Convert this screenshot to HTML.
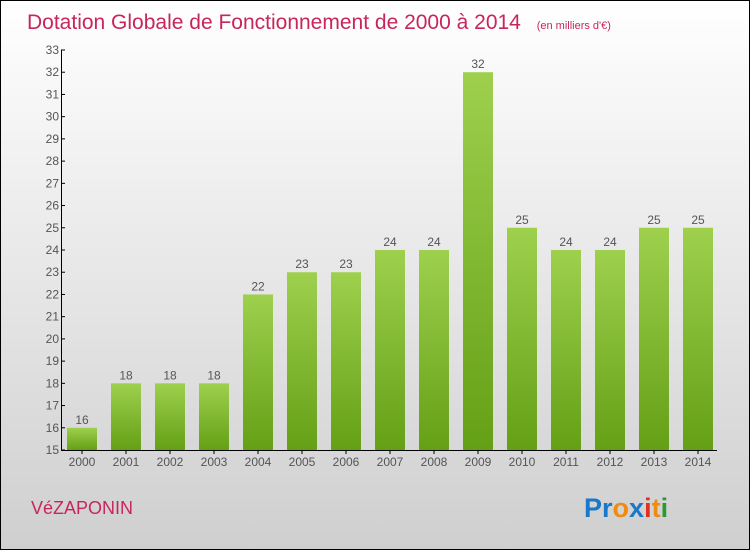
<!DOCTYPE html>
<html><head><meta charset="utf-8"><style>
body{margin:0}
#c{width:748px;height:548px;border:1px solid #000;background:linear-gradient(#fff,#cfcfcf);position:relative;font-family:"Liberation Sans",sans-serif;overflow:hidden}
</style></head><body>
<div id="c">
<svg id="s" width="748" height="548">
<defs><linearGradient id="g" x1="0" y1="0" x2="0" y2="1"><stop offset="0" stop-color="#9ed04e"/><stop offset="1" stop-color="#64a016"/></linearGradient></defs>
<text x="26" y="28" font-size="21" fill="#c8265a">Dotation Globale de Fonctionnement de 2000 à 2014 <tspan font-size="11" dx="10">(en milliers d'€)</tspan></text>
<text x="30" y="513" font-size="18" fill="#c8265a">VéZAPONIN</text>
<text x="583" y="516" font-size="27" font-weight="bold" font-family="Liberation Sans,sans-serif"><tspan fill="#1a78c8">Pr</tspan><tspan fill="#f08a10">o</tspan><tspan fill="#1a78c8">x</tspan><tspan fill="#e03020">i</tspan><tspan fill="#f08a10">t</tspan><tspan fill="#2a9a30">i</tspan></text>
<g id="p"></g>
</svg></div>
<script>
const years=["2000","2001","2002","2003","2004","2005","2006","2007","2008","2009","2010","2011","2012","2013","2014"];
const values=[16,18,18,18,22,23,23,24,24,32,25,24,24,25,25];
const yMin=15,yMax=33;
const ns="http://www.w3.org/2000/svg",p=document.getElementById('p');
const y=v=>449-(v-yMin)*(400/(yMax-yMin));
const x=i=>81+i*44;
function mk(t,a,txt){const e=document.createElementNS(ns,t);for(const k in a)e.setAttribute(k,a[k]);if(txt!=null)e.textContent=txt;p.appendChild(e);return e;}
for(let v=yMin;v<=yMax;v++){
 const t=mk('line',{x1:60,x2:64,y1:y(v),y2:y(v),stroke:'#000'});
 
 
 const l=mk('text',{x:58,y:y(v)+4,'font-size':12,'text-anchor':'end',fill:'#555'},v);
 
 
}
years.forEach((yr,i)=>{
 const b=mk('rect',{x:x(i)-15,y:y(values[i]),width:30,height:y(yMin)-y(values[i]),fill:'url(#g)'});
 
 
 const v=mk('text',{x:x(i),y:y(values[i])-4,'font-size':12,'text-anchor':'middle',fill:'#555'},values[i]);
 
 
 const t=mk('line',{x1:x(i),x2:x(i),y1:449,y2:453,stroke:'#000'});
 
 
 const l=mk('text',{x:x(i),y:465,'font-size':12,'text-anchor':'middle',fill:'#555'},yr);
 
 
});
const ya=mk('line',{x1:60.5,x2:60.5,y1:y(yMax),y2:450,stroke:'#000'});


const xa=mk('line',{x1:60,x2:716,y1:449.5,y2:449.5,stroke:'#000'});


</script>
</body></html>
